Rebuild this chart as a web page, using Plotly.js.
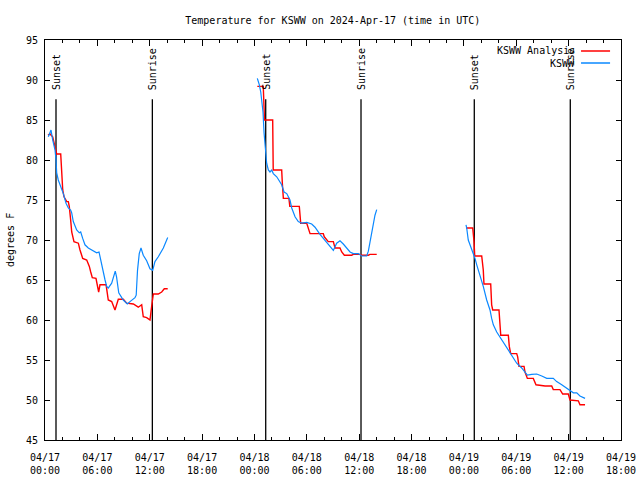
<!DOCTYPE html>
<html><head><meta charset="utf-8">
<script src="https://cdn.plot.ly/plotly-3.0.1.min.js"></script>
<style>html,body{margin:0;padding:0;background:#fff}#chart{width:640px;height:480px}</style>
</head><body><div id="chart"></div>
<script>
// Hours since 2024-04-17 00:00 UTC; null separates nights
const analysisHours = [
  0.34,0.57,0.88,1.15,1.34,1.80,1.91,2.03,2.18,2.49,2.67,2.78,2.94,3.06,3.32,3.82,4.01,4.32,4.78,5.08,5.24,5.42,5.84,6.00,6.15,6.30,7.00,7.25,7.64,8.02,8.22,8.40,8.97,9.36,10.12,10.69,11.08,11.26,11.65,12.03,12.22,12.34,12.41,12.98,13.37,13.67,14.06,
  null,
  24.33,25.01,25.15,26.09,26.15,27.12,27.20,27.31,27.95,28.05,29.14,29.20,29.30,29.99,30.17,30.37,31.89,32.00,32.46,33.04,33.23,33.80,34.00,34.30,35.14,35.33,36.09,36.29,37.05,37.24,38.01,
  null,
  48.24,49.01,49.16,49.24,50.04,50.22,50.30,51.07,51.18,51.30,52.02,52.14,52.22,53.09,53.20,53.36,54.05,54.16,54.31,54.89,55.00,55.27,55.95,56.26,57.30,58.06,58.24,59.01,59.32,59.96,60.16,61.11,61.30,61.88
];
const analysisTemps = [
  83.1,83.25,82.9,81.7,80.75,80.75,78.3,76.25,75.4,74.8,74.8,74.2,72.5,71.0,69.8,69.6,68.75,67.7,67.5,66.7,66.0,65.3,65.2,64.0,63.5,64.4,64.4,62.5,62.3,61.25,61.9,62.6,62.6,62.1,62.0,61.6,61.9,60.4,60.3,60.0,61.7,62.9,63.25,63.25,63.5,63.9,63.9,
  null,
  89.2,89.2,85.0,85.0,78.75,78.75,77.0,75.2,75.2,74.2,74.2,72.5,72.1,72.1,71.5,70.8,70.8,70.4,69.8,69.8,69.0,69.0,68.5,68.1,68.1,68.2,68.2,68.1,68.1,68.2,68.2,
  null,
  71.5,71.5,69.8,68.0,68.0,66.25,64.5,64.5,61.9,61.25,61.25,59.6,58.1,58.1,56.7,55.8,55.8,55.4,54.2,54.2,53.5,52.7,52.7,51.9,51.75,51.75,51.3,51.3,50.75,50.75,50.0,49.9,49.4,49.4
];
const obsHours = [
  0.38,0.69,0.88,1.15,1.26,1.34,1.52,1.80,2.10,2.41,2.67,2.94,3.06,3.24,3.63,3.93,4.09,4.32,4.58,4.96,5.53,5.92,6.19,6.30,6.50,6.88,7.07,7.25,7.64,8.05,8.20,8.45,8.97,9.43,9.74,10.31,10.45,10.60,10.80,11.00,11.26,11.65,12.03,12.34,12.60,12.98,13.56,14.06,
  null,
  24.33,24.56,24.72,24.83,24.98,25.10,25.32,25.40,25.59,25.78,25.98,26.16,26.55,26.93,27.12,27.39,27.70,28.07,28.27,28.65,29.02,29.41,29.99,30.56,30.94,31.51,32.08,32.66,33.04,33.42,33.80,34.18,34.57,34.95,35.33,35.90,36.29,36.86,37.05,37.24,37.44,37.62,37.81,38.01,
  null,
  48.24,48.32,48.50,48.70,49.08,49.27,49.47,49.84,50.22,50.61,50.99,51.18,51.37,51.76,52.33,52.90,53.48,54.05,54.62,55.12,55.27,55.77,56.34,56.92,57.49,58.24,58.63,59.21,59.78,60.16,60.54,60.93,61.30,61.88
];
const obsTemps = [
  82.9,83.75,82.5,81.25,80.0,78.4,77.5,76.7,75.8,74.6,74.0,73.75,73.4,72.3,71.25,70.9,71.0,70.2,69.4,69.0,68.6,68.4,68.5,67.9,66.7,65.0,64.2,64.0,64.6,66.1,65.4,63.4,62.5,62.0,62.3,62.8,63.1,66.2,68.3,69.0,68.1,67.4,66.4,66.2,67.3,67.9,69.0,70.3,
  null,
  90.2,89.4,88.5,87.5,86.0,83.4,80.8,79.6,78.75,78.5,78.75,78.3,77.9,77.3,76.9,76.0,75.8,75.0,74.0,72.9,72.3,72.1,72.2,72.0,71.6,70.7,69.9,69.2,68.7,69.6,69.9,69.5,69.0,68.5,68.3,68.3,68.0,68.0,68.6,69.8,71.2,72.3,73.1,73.8,
  null,
  71.9,71.5,70.0,69.4,68.5,67.7,66.9,65.6,64.2,62.5,61.25,60.2,59.4,58.5,57.5,56.5,55.6,54.6,54.0,53.3,53.1,53.2,53.25,53.0,52.7,52.7,52.3,51.9,51.5,51.25,50.9,50.9,50.5,50.2
];
const sunHours = [1.26, 12.30, 25.29, 36.21, 49.19, 60.19];
const sunLabels = ['Sunset','Sunrise','Sunset','Sunrise','Sunset','Sunrise'];
const tickHours = [0,6,12,18,24,30,36,42,48,54,60,66];
const tickLabels = ['04/17<br>00:00','04/17<br>06:00','04/17<br>12:00','04/17<br>18:00',
  '04/18<br>00:00','04/18<br>06:00','04/18<br>12:00','04/18<br>18:00',
  '04/19<br>00:00','04/19<br>06:00','04/19<br>12:00','04/19<br>18:00'];
const seriesNames = ['KSWW Analysis','KSWW'];
const seriesColors = ['#ff0000','#0a88ff'];

const FONT = {family:'DejaVu Sans Mono, monospace', size:10, color:'#000'};

const traces = [
  {x: analysisHours, y: analysisTemps, mode:'lines', name: seriesNames[0],
   line:{color: seriesColors[0], width:1.4}, connectgaps:false},
  {x: obsHours, y: obsTemps, mode:'lines', name: seriesNames[1],
   line:{color: seriesColors[1], width:1.2}, connectgaps:false}
];

const shapes = sunHours.map(h => ({type:'line', xref:'x', yref:'y', x0:h, x1:h, y0:45, y1:87.6,
  line:{color:'#000', width:1.3}, layer:'below'}));
// legend samples (gnuplot style: text then line)
const legendRowsY = [0.9725, 0.9425];
seriesColors.forEach((c,i) => shapes.push({type:'line', xref:'paper', yref:'paper',
  x0:0.9306, x1:0.981, y0:legendRowsY[i], y1:legendRowsY[i], line:{color:c, width:1.5}}));

const annotations = sunHours.map((h,i) => ({x:h, y:88.5, xref:'x', yref:'y', text:sunLabels[i],
  textangle:-90, showarrow:false, xanchor:'center', yanchor:'bottom', font:FONT}));
seriesNames.forEach((n,i) => annotations.push({x:0.9236, y:legendRowsY[i], xref:'paper', yref:'paper',
  text:n, showarrow:false, xanchor:'right', yanchor:'middle', font:FONT}));
annotations.push({x:0, y:0.5, xref:'paper', yref:'paper', xshift:-35, text:'degrees F', textangle:-90,
  showarrow:false, xanchor:'center', yanchor:'middle', font:FONT});

const layout = {
  width:640, height:480,
  margin:{l:45, r:19, t:40, b:40},
  paper_bgcolor:'#fff', plot_bgcolor:'#fff',
  font: FONT,
  showlegend:false,
  title:{text:'Temperature for KSWW on 2024-Apr-17 (time in UTC)', font:FONT,
    x:0.52, xref:'container', xanchor:'center', y:1-20/480, yref:'container', yanchor:'middle'},
  xaxis:{range:[0,66], tickvals:tickHours, ticktext:tickLabels, ticks:'inside', ticklen:6,
    tickcolor:'#000', showline:true, linecolor:'#000', linewidth:1, mirror:'allticks',
    showgrid:false, zeroline:false, ticklabelstandoff:8, tickfont:FONT,
    minor:{dtick:2, ticks:'inside', ticklen:3, tickcolor:'#000', showgrid:false}},
  yaxis:{range:[45,95], dtick:5, tick0:45, ticks:'inside', ticklen:5, tickcolor:'#000',
    showline:true, linecolor:'#000', linewidth:1, mirror:'allticks', showgrid:false,
    zeroline:false, ticklabelstandoff:4, tickfont:FONT},
  shapes: shapes,
  annotations: annotations
};
Plotly.newPlot('chart', traces, layout, {staticPlot:true, displayModeBar:false});
</script></body></html>
